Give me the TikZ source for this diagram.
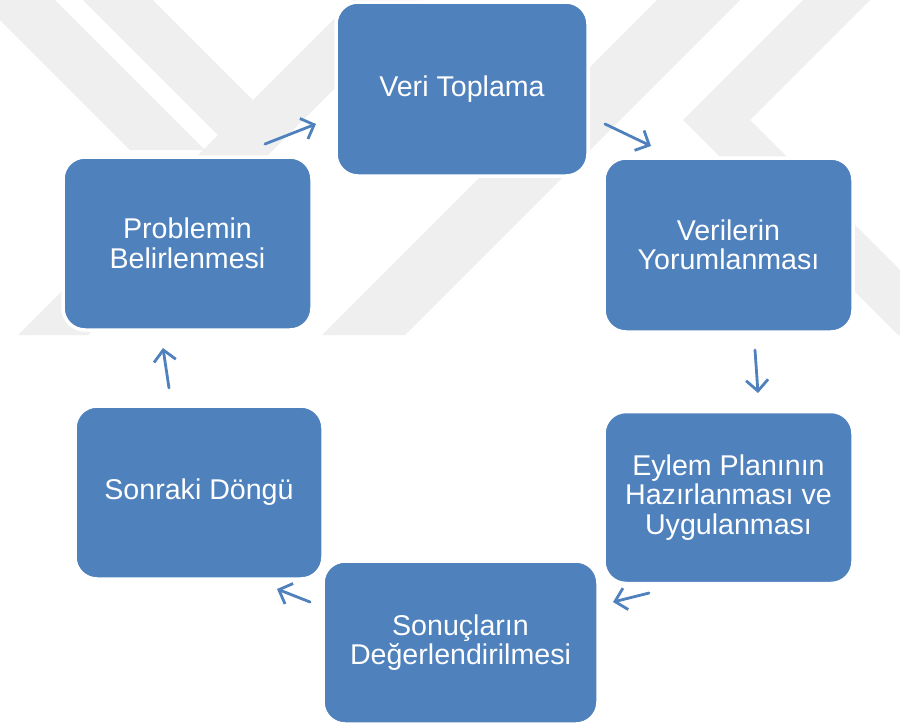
\documentclass[tikz,border=0pt]{standalone}
\usepackage{fontspec}
\setmainfont{Liberation Sans}
\usetikzlibrary{arrows.meta}
\definecolor{boxblue}{HTML}{4F81BD}
\definecolor{wmgray}{HTML}{EFEFEF}
\begin{document}
\begin{tikzpicture}[x=1pt,y=-1pt,
  stepbox/.style={rectangle, rounded corners=22pt, fill=boxblue, draw=white, line width=3.5pt,
    text=white, align=center, inner sep=0pt,
    font=\fontsize{28.6pt}{29.5pt}\selectfont},
  flow/.style={draw=boxblue, line width=2.8pt, line cap=round,
    -{Straight Barb[length=11pt,width=22pt,line width=2.8pt]}},
  mark band/.style={fill=wmgray}]
\useasboundingbox (0,0) rectangle (900,726);
\fill[white] (0,0) rectangle (900,726);
% faint watermark
\begin{scope}
\clip (0,0) rectangle (900,335);
\fill[mark band] (0,20) -- (0,0) -- (55,0) -- (205,150) -- (130,150) -- cycle;
\fill[mark band] (353,0) -- (423,0) -- (88,335) -- (18,335) -- cycle;
\fill[mark band] (83,0) -- (153,0) -- (253,100) -- (218,135) -- cycle;
\fill[mark band] (657,0) -- (740,0) -- (405,335) -- (322,335) -- cycle;
\fill[mark band] (803,0) -- (870,0) -- (750,120) -- (683,120) -- cycle;
\fill[mark band] (683,120) -- (750,120) -- (965,335) -- (898,335) -- cycle;
\end{scope}
\node[stepbox, minimum width=252pt, minimum height=174pt] (veri) at (462,89) {Veri Toplama};
\node[stepbox, minimum width=249pt, minimum height=173pt] (prob) at (187.5,243.5) {Problemin\\Belirlenmesi};
\node[stepbox, minimum width=249pt, minimum height=174pt] (yor) at (728.5,245) {Verilerin\\Yorumlanması};
\node[stepbox, minimum width=249pt, minimum height=172pt] (eylem) at (728.5,497.5) {Eylem Planının\\Hazırlanması ve\\Uygulanması};
\node[stepbox, minimum width=248pt, minimum height=173pt] (sonraki) at (199,492.5) {Sonraki Döngü};
\node[stepbox, minimum width=275pt, minimum height=163pt] (sonuc) at (460.5,642.5) {Sonuçların\\Değerlendirilmesi};
\coordinate (a1s) at (265,144); \coordinate (a1e) at (316,124);
\coordinate (a2s) at (605,124); \coordinate (a2e) at (651,146);
\coordinate (a3s) at (755,350); \coordinate (a3e) at (758,393);
\coordinate (a4s) at (649,593); \coordinate (a4e) at (613,602);
\coordinate (a5s) at (310,602); \coordinate (a5e) at (277,589);
\coordinate (a6s) at (169,388); \coordinate (a6e) at (163,348);
\draw[flow] (a1s) -- (a1e);
\draw[flow] (a2s) -- (a2e);
\draw[flow] (a3s) -- (a3e);
\draw[flow] (a4s) -- (a4e);
\draw[flow] (a5s) -- (a5e);
\draw[flow] (a6s) -- (a6e);
\end{tikzpicture}
\end{document}
